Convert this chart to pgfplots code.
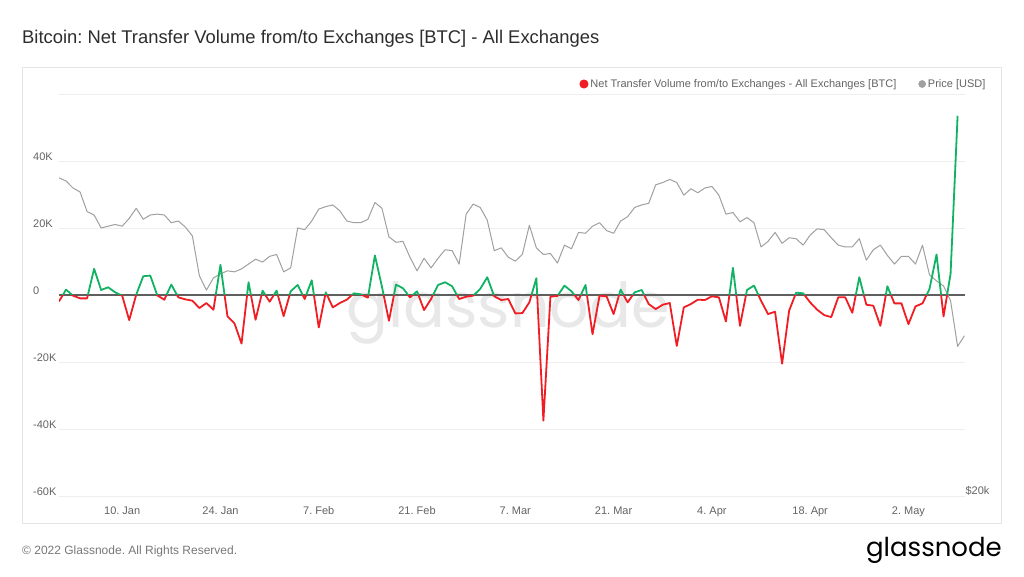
\documentclass[border=0pt]{standalone}
\usepackage{fontspec}
\setmainfont{Liberation Sans}
\newfontfamily\logofont{Poppins}
\usepackage{pgfplots}
\usepackage{pgfplotstable}
\pgfplotsset{compat=1.18}
\frenchspacing

\definecolor{flowred}{RGB}{240,30,36}
\definecolor{flowgreen}{RGB}{18,178,100}
\definecolor{pricegray}{RGB}{160,160,160}
\definecolor{zerogray}{RGB}{95,95,95}
\definecolor{gridgray}{RGB}{238,238,238}
\definecolor{boxgray}{RGB}{228,228,228}
\definecolor{labelgray}{RGB}{100,100,100}
\definecolor{titlegray}{RGB}{45,45,45}
\definecolor{wmgray}{RGB}{232,232,232}
\definecolor{footgray}{RGB}{120,120,120}

% Net transfer volume, day index from 1 Jan 2022
\pgfplotstableread{
d v
0 -1900
1 1600
2 -200
3 -1000
4 -1000
5 7800
6 1500
7 2300
8 800
9 -200
10 -7500
11 100
12 5600
13 5800
14 -100
15 -1400
16 3100
17 -700
18 -1300
19 -1700
20 -3900
21 -2400
22 -4400
23 9000
24 -6400
25 -8500
26 -14500
27 3800
28 -7400
29 1300
30 -2000
31 1300
32 -6300
33 1100
34 3000
35 -1200
36 4400
37 -9700
38 800
39 -3700
40 -2400
41 -1400
42 500
43 200
44 -800
45 11800
46 2500
47 -7700
48 3100
49 2000
50 -700
51 1100
52 -4500
53 -1200
54 3000
55 3800
56 2600
57 -1200
58 -500
59 -200
60 1800
61 5300
62 -400
63 -1500
64 -1200
65 -5500
66 -5400
67 -2200
68 5000
69 -37500
70 -500
71 -300
72 2800
73 1100
74 -1500
75 3000
76 -11700
77 -200
78 -400
79 -5700
80 1600
81 -2200
82 800
83 1500
84 -2700
85 -4200
86 -2900
87 -2400
88 -15200
89 -3700
90 -2700
91 -1400
92 -1500
93 -400
94 -700
95 -7900
96 8100
97 -9200
98 1500
99 2800
100 -1700
101 -5700
102 -5000
103 -20500
104 -4700
105 700
106 500
107 -2200
108 -4400
109 -6000
110 -6600
111 -700
112 -700
113 -5300
114 5300
115 -2900
116 -3200
117 -9200
118 2600
119 -2500
120 -2500
121 -8700
122 -3400
123 -2500
124 1800
125 12100
126 -6400
127 6300
128 53500
}\flowtable

% BTC price (USD)
\pgfplotstableread{
d p
0 47700
1 47300
2 46400
3 45900
4 43500
5 43100
6 41600
7 41800
8 42000
9 41800
10 42700
11 43900
12 42600
13 43100
14 43200
15 43100
16 42200
17 42400
18 41700
19 40700
20 36500
21 35100
22 36300
23 36700
24 37000
25 36900
26 37200
27 37700
28 38200
29 37900
30 38500
31 38700
32 36900
33 37300
34 41600
35 41400
36 42400
37 43800
38 44100
39 44300
40 43600
41 42400
42 42200
43 42200
44 42600
45 44600
46 43900
47 40600
48 40000
49 40100
50 38400
51 37000
52 38300
53 37300
54 38300
55 39200
56 39100
57 37700
58 43200
59 44400
60 44000
61 42500
62 39100
63 39400
64 38400
65 38000
66 38700
67 41900
68 39400
69 38700
70 38800
71 37800
72 39700
73 39300
74 41100
75 41000
76 41800
77 42200
78 41300
79 41000
80 42400
81 42900
82 44000
83 44300
84 44500
85 46800
86 47100
87 47500
88 47100
89 45500
90 46300
91 45800
92 46400
93 46600
94 45500
95 43200
96 43400
97 42300
98 42800
99 42200
100 39500
101 40100
102 41100
103 39900
104 40500
105 40400
106 39700
107 40800
108 41500
109 41400
110 40500
111 39700
112 39500
113 39500
114 40400
115 38100
116 39200
117 39700
118 38600
119 37700
120 38500
121 38500
122 37700
123 39700
124 36600
125 36000
126 35500
127 34100
128 30100
129 31000
}\pricetable

\pgfplotsset{
  base/.style={scale only axis, width=905.6pt, height=402pt,
    at={(59pt,80pt)}, anchor=south west, xmin=0, xmax=129},
  tl/.style={font=\fontsize{11}{13}\selectfont, text=labelgray}
}

\begin{document}
\begin{tikzpicture}[x=1pt,y=1pt]
\useasboundingbox (0,0) rectangle (1024,576);
\fill[white] (0,0) rectangle (1024,576);
\draw[boxgray, line width=1pt] (22,53) rectangle (1001,508);
\node[anchor=base west, inner sep=0pt, font=\fontsize{18.4}{22}\selectfont, text=titlegray] at (22,532) {Bitcoin: Net Transfer Volume from/to Exchanges [BTC] - All Exchanges};
\node[anchor=base, inner sep=0pt, font=\logofont\fontsize{62}{66}\selectfont, text=wmgray] at (508,248) {glassnode};
\node[anchor=base west, inner sep=0pt, font=\fontsize{12}{14}\selectfont, text=footgray] at (22,22) {© 2022 Glassnode. All Rights Reserved.};
\node[anchor=base east, inner sep=0pt, font=\logofont\fontsize{26}{30}\selectfont, text=black] at (1002,20) {glassnode};

% frame axis: grid, tick labels, zero line
\begin{axis}[base, ymin=-60000, ymax=60000,
  scaled y ticks=false,
  ytick={-60000,-40000,-20000,0,20000,40000,60000},
  yticklabels={-60K,-40K,-20K,0,20K,40K,{}},
  ymajorgrids, grid style={gridgray, line width=1pt},
  axis line style={draw=none},
  major tick length=0pt,
  xtick={9,23,37,51,65,79,93,107,121},
  xticklabels={10. Jan,24. Jan,7. Feb,21. Feb,7. Mar,21. Mar,4. Apr,18. Apr,2. May},
  tick label style={tl},
  yticklabel style={anchor=south west, inner sep=0pt, xshift=-26pt, yshift=0.5pt},
  xticklabel style={anchor=north, inner sep=0pt, text height=8pt, text depth=2pt, yshift=-10pt},
  extra y ticks={0}, extra y tick labels={},
  extra y tick style={grid style={zerogray, line width=1.8pt}},
]
\end{axis}

% price axis (log, right)
\begin{axis}[base, ymode=log, ymin=20000, ymax=60000,
  axis y line*=right, hide x axis, axis line style={draw=none},
  major tick length=0pt, minor tick length=0pt,
  ytick={20000}, yticklabels={\$20k},
  yticklabel style={tl, anchor=south east, inner sep=0pt, xshift=25pt, yshift=0.5pt},
]
\addplot[pricegray, line width=1pt, line join=round] table[x=d,y=p]{\pricetable};
\end{axis}

% flow: positive half (clipped to upper half of the plot area)
\begin{axis}[base, height=201pt, at={(59pt,281pt)}, ymin=0, ymax=60000, hide axis]
\addplot[flowgreen, line width=1.8pt, line join=round] table[x=d,y=v]{\flowtable};
\end{axis}

% flow: negative half (clipped to lower half), holds the legend
\begin{axis}[base, height=201pt, ymin=-60000, ymax=0, hide axis,
  legend columns=2,
  legend image code/.code={\fill (0pt,0pt) circle (3.6pt);},
  legend style={at={(1,2)}, anchor=east, xshift=23pt, yshift=10pt,
    draw=none, fill=none, inner sep=0pt,
    font=\fontsize{11}{13}\selectfont, text=labelgray,
    /tikz/every even column/.append style={column sep=20pt}},
]
\addplot[flowred, line width=1.8pt, line join=round] table[x=d,y=v]{\flowtable};
\addlegendentry{Net Transfer Volume from/to Exchanges - All Exchanges [BTC]}
\addlegendimage{pricegray}
\addlegendentry{Price [USD]}
\end{axis}
\end{tikzpicture}
\end{document}
